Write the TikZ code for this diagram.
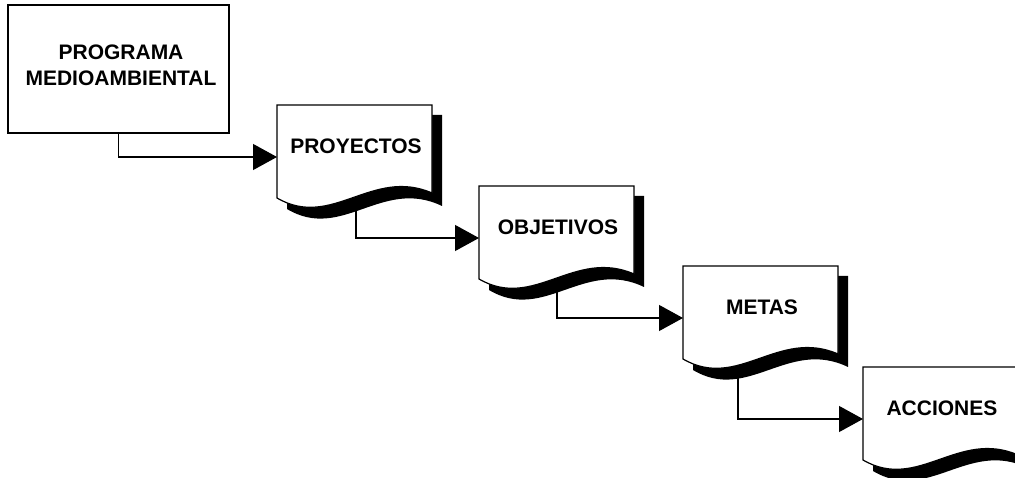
\documentclass[tikz,border=0pt]{standalone}
\usepackage{fontspec}
\setmainfont{Liberation Sans}
\usetikzlibrary{arrows.meta,backgrounds}

\tikzset{
  every picture/.style={x=1pt,y=-1pt},
  lblfont/.style={font=\fontsize{21}{26}\selectfont\bfseries, inner sep=0pt},
  lbl/.style={lblfont, text height=15pt, text depth=0pt},
  page/.style={draw=black, fill=white, line width=1.2pt, line join=miter},
  pageshadow/.style={fill=black},
  progbox/.style={draw=black, fill=white, line width=1.2pt, minimum width=221pt, minimum height=128pt, inner sep=0pt},
  conn/.style={draw=black, line width=1.2pt, -{Triangle[length=24pt,width=26pt]}},
  % document sheet with a wavy lower edge and a solid drop shadow
  pics/docpage/.style n args={2}{code={
    \fill[pageshadow] (10,10) -- (165,10) -- (165,101)
      .. controls (105,72) and (65,137) .. (10,104) -- cycle;
    \filldraw[page] (0,0) -- (155,0) -- (155,88)
      .. controls (95,62) and (55,125) .. (0,93) -- cycle;
    \node[lbl] (-text) at (79,41) {#1};
    \coordinate (-in) at (0,52);
    \coordinate (-out) at (#2,95);
  }}
}

\begin{document}
\begin{tikzpicture}
\useasboundingbox (0,0) rectangle (1015,478);
\clip (0,0) rectangle (1015,478);

\node[progbox] (prog) at (118.5,69) {};
\node[lblfont, align=center] (progtext) at (121,65.5) {PROGRAMA\\MEDIOAMBIENTAL};

\pic (proy) at (277,105) {docpage={PROYECTOS}{79}};
\pic (obj)  at (479,186) {docpage={OBJETIVOS}{78}};
\pic (metas) at (683,266) {docpage={METAS}{55}};
\pic (acc)  at (863,367) {docpage={ACCIONES}{55}};

\begin{scope}[on background layer]
  \draw[conn] (prog.south) |- (proy-in);
  \draw[conn] (proy-out) |- (obj-in);
  \draw[conn] (obj-out) |- (metas-in);
  \draw[conn] (metas-out) |- (acc-in);
\end{scope}
\end{tikzpicture}
\end{document}
